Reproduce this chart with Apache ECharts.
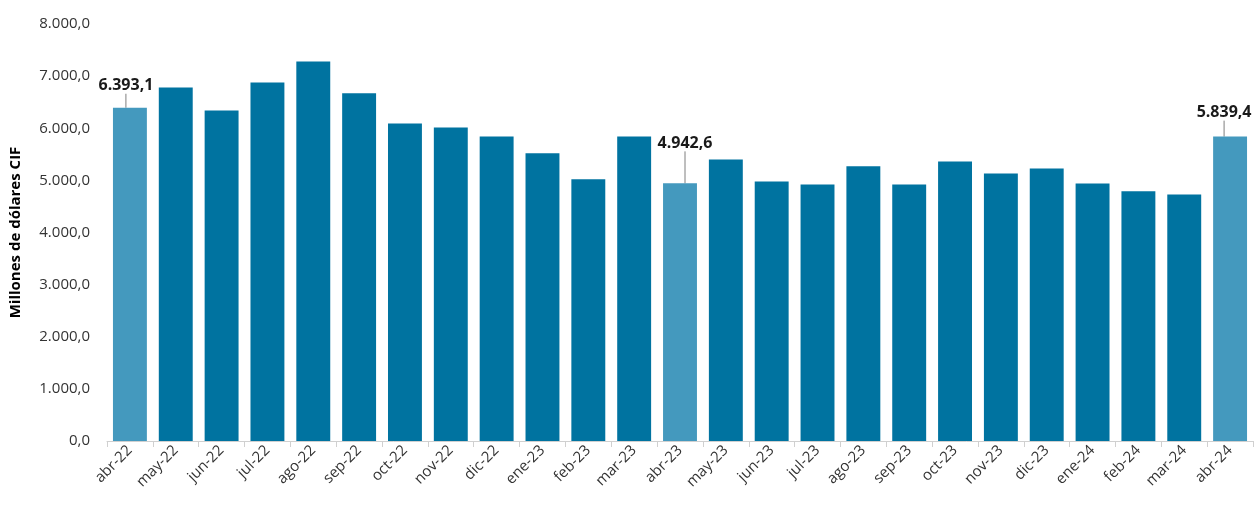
<!DOCTYPE html>
<html>
<head>
<meta charset="UTF-8">
<title>Millones de dólares CIF</title>
<script src="https://cdn.jsdelivr.net/npm/echarts@6/dist/echarts.min.js"></script>
<style>
	body { margin: 0; background: #fff; }
</style>
</head>
<body>
	<div id='chart' style='width: 1260px; height: 512px;'></div>
	<script>
	// meses y valores (millones de dólares CIF)
	var meses = ['abr-22','may-22','jun-22','jul-22','ago-22','sep-22','oct-22','nov-22','dic-22','ene-23','feb-23','mar-23',
		'abr-23','may-23','jun-23','jul-23','ago-23','sep-23','oct-23','nov-23','dic-23','ene-24','feb-24','mar-24','abr-24'];
	var valores = [6393.1, 6780, 6340, 6880, 7280, 6670, 6090, 6015, 5840, 5520, 5020, 5840,
		4942.6, 5400, 4980, 4920, 5270, 4920, 5360, 5130, 5230, 4940, 4790, 4730, 5839.4];
	// meses resaltados (abril de cada año)
	var resaltados = [0, 12, 24];
	var yTicks = [0, 1000, 2000, 3000, 4000, 5000, 6000, 7000, 8000];

	// formato español: 6.393,1
	function fmt(v){
		var s = v.toFixed(1).split('.');
		return s[0].replace(/\B(?=(\d{3})+(?!\d))/g, '.') + ',' + s[1];
	}

	var datos = [];
	for (var i=0; i<valores.length; i++){
		if (resaltados.indexOf(i) >= 0){
			datos.push({
				value: valores[i],
				itemStyle: { color: '#4499be' },
				label: { show: true }
			});
		} else {
			datos.push(valores[i]);
		}
	}

	var chart = echarts.init(document.getElementById('chart'));
	var option = {
		animation: false,
		textStyle: { fontFamily: 'Open Sans' },
		grid: { left: 107, right: 7, top: 24, bottom: 71 },
		xAxis: {
			type: 'category',
			data: meses,
			axisLine: { lineStyle: { color: '#d0d0d0', width: 1 } },
			axisTick: { show: true, length: 6, lineStyle: { color: '#d0d0d0' } },
			axisLabel: { rotate: 45, margin: 7, color: '#333', fontSize: 15, interval: 0, padding: [0, 0, 0, 6] }
		},
		yAxis: {
			type: 'value',
			min: yTicks[0],
			max: yTicks[yTicks.length-1],
			interval: 1000,
			name: 'Millones de dólares CIF',
			nameLocation: 'middle',
			nameGap: 84,
			nameTextStyle: { fontWeight: 'bold', fontSize: 15, color: '#000' },
			axisLine: { show: false },
			axisTick: { show: false },
			splitLine: { show: false },
			axisLabel: {
				margin: 17,
				color: '#333',
				fontSize: 15,
				formatter: function(v){ return fmt(v); }
			}
		},
		series: [{
			type: 'bar',
			data: datos,
			barCategoryGap: '26%',
			itemStyle: { color: '#0073a0' },
			label: {
				show: false,
				position: 'top',
				distance: 5,
				fontWeight: 'bold',
				fontSize: 16,
				color: '#1a1a1a',
				formatter: function(p){ return fmt(p.value); }
			},
			labelLine: { show: true, lineStyle: { color: '#7f7f7f', width: 1 } },
			labelLayout: function(p){
				if (p.dataIndex === 0) return { dx: -4, dy: -9 };
				if (p.dataIndex === 12) return { dx: 5, dy: -27 };
				if (p.dataIndex === 24) return { dx: -6, dy: -11 };
				return {};
			}
		}]
	};
	chart.setOption(option);
	</script>
</body>
</html>
